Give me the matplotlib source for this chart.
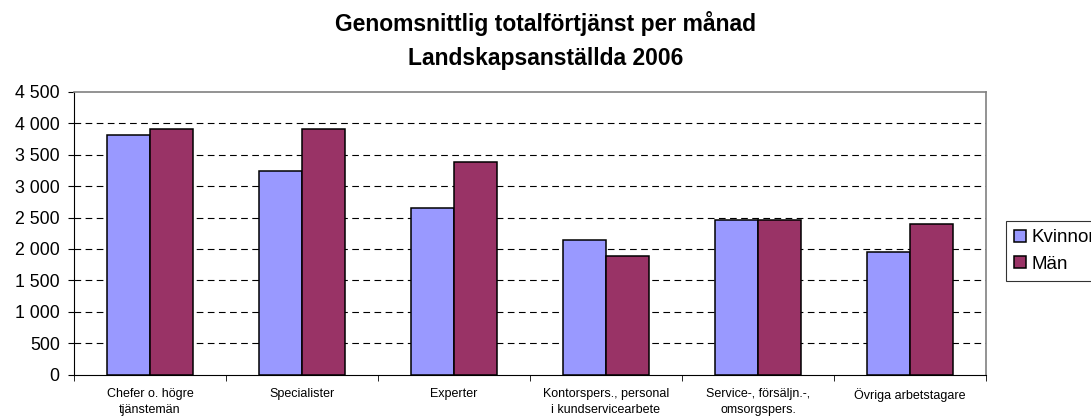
import matplotlib
matplotlib.use("Agg")
import matplotlib.pyplot as plt
from matplotlib.ticker import FuncFormatter, FixedLocator
import numpy as np

categories = [
    "Chefer o. högre\ntjänstemän",
    "Specialister",
    "Experter",
    "Kontorspers., personal\ni kundservicearbete",
    "Service-, försäljn.-,\nomsorgspers.",
    "Övriga arbetstagare",
]
kvinnor = [3810, 3245, 2645, 2150, 2455, 1950]
man = [3905, 3905, 3385, 1880, 2455, 2405]
series_labels = ["Kvinnor", "Män"]
title_lines = ["Genomsnittlig totalförtjänst per månad", "Landskapsanställda 2006"]

plt.rcParams["font.family"] = ["Liberation Sans", "DejaVu Sans"]

W, H = 1091, 419
fig = plt.figure(figsize=(W / 100, H / 100), dpi=100)
# axes box in pixels: left 74, right 986, top 92, bottom 374.5
ax = fig.add_axes([74 / W, 1 - 374.5 / H, (986 - 74) / W, (374.5 - 92) / H])

x = np.arange(len(categories))
w = 0.283
ax.bar(x - w / 2, kvinnor, w, color="#9999FF", edgecolor="black", linewidth=1.1,
       label=series_labels[0], zorder=3)
ax.bar(x + w / 2, man, w, color="#993366", edgecolor="black", linewidth=1.1,
       label=series_labels[1], zorder=3)

ax.set_xlim(-0.5, len(categories) - 0.5)
ax.set_ylim(0, 4500)
ax.set_yticks(np.arange(0, 4501, 500))
ax.yaxis.set_major_formatter(FuncFormatter(lambda v, p: f"{int(v):,}".replace(",", " ")))
ax.tick_params(axis="y", labelsize=12.8, length=4.3, direction="out", pad=6)

ax.set_xticks(x)
ax.set_xticklabels(categories, fontsize=9, linespacing=1.4)
ax.tick_params(axis="x", length=0, pad=10)
ax.xaxis.set_minor_locator(FixedLocator(np.arange(-0.5, len(categories), 1.0)))
ax.tick_params(axis="x", which="minor", length=4, direction="out")

for yv in range(500, 4500, 500):
    ax.axhline(yv, color="black", linestyle=(0, (6, 4)), linewidth=0.8, zorder=1)

ax.spines["top"].set_color("#808080")
ax.spines["right"].set_color("#808080")
ax.spines["top"].set_linewidth(1.2)
ax.spines["right"].set_linewidth(1.2)
ax.spines["left"].set_color("black")
ax.spines["bottom"].set_color("black")

fig.text(0.5, 1 - 31 / H, title_lines[0], ha="center", va="baseline",
         fontsize=16.5, fontweight="bold")
fig.text(0.5, 1 - 65 / H, title_lines[1], ha="center", va="baseline",
         fontsize=16.5, fontweight="bold")

leg = fig.legend(loc="upper left", bbox_to_anchor=(1006 / W, 1 - 221 / H),
                 fontsize=13.5, frameon=True, fancybox=False, edgecolor="black",
                 handlelength=0.6, handleheight=0.6, handletextpad=0.3,
                 borderpad=0.45, labelspacing=0.5, borderaxespad=0)
leg.get_frame().set_linewidth(0.8)

fig.savefig("out.png", dpi=100)
